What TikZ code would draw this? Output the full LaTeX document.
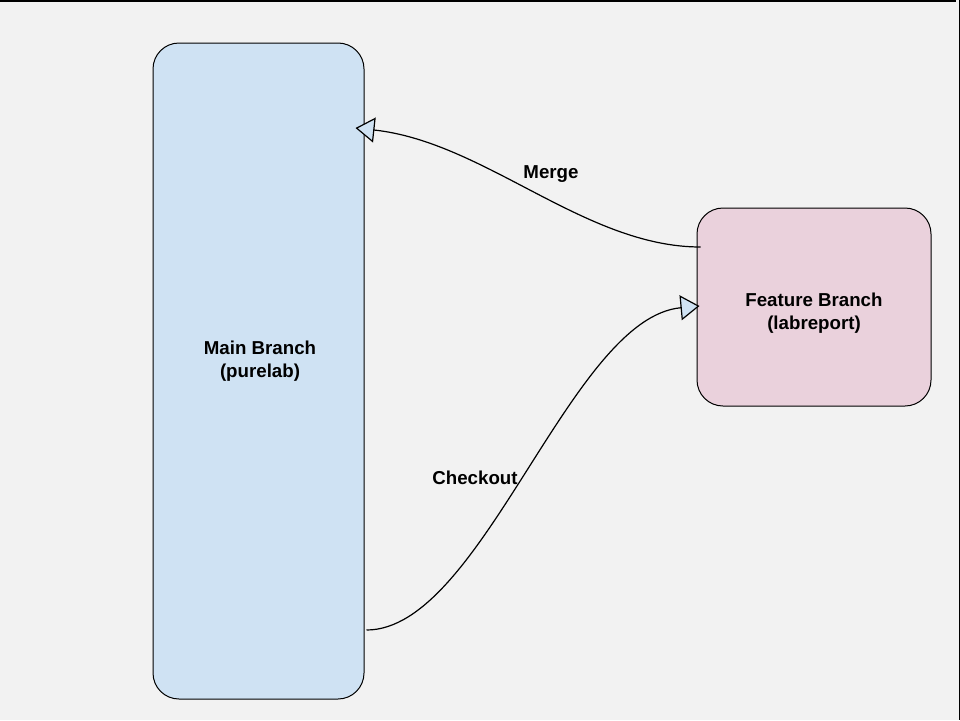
\documentclass[tikz,border=0pt]{standalone}
\usepackage{fontspec}
\setmainfont{Liberation Sans}
\usetikzlibrary{arrows.meta}
\definecolor{bgcol}{HTML}{F2F2F2}
\definecolor{mainfill}{HTML}{CFE2F3}
\definecolor{featfill}{HTML}{EAD1DC}
\tikzset{
  branchbox/.style={draw=black, line width=1pt, rounded corners=26pt, inner sep=0pt},
  lbl/.style={font=\fontsize{18.7}{23}\selectfont\bfseries, inner sep=0pt, align=center},
  conn/.style={line width=1.2pt, draw=black,
    -{Triangle[open, length=19pt, width=25pt, fill=mainfill, line width=1.2pt]}}
}
\begin{document}
\begin{tikzpicture}[x=1pt,y=-1pt]
\useasboundingbox (0,0) rectangle (960,720);
\fill[bgcol] (0,0) rectangle (960,720);
\draw[line width=1.5pt] (0,0.75) -- (956,0.75);
\draw[line width=1.5pt] (959.25,0) -- (959.25,720);
\node[branchbox, fill=mainfill, minimum width=211pt, minimum height=656pt] (main) at (258.5,371) {};
\node[branchbox, fill=featfill, minimum width=234pt, minimum height=198pt] (feat) at (814,307) {};
\node[lbl] (maintext) at (260,361) {Main Branch\\(purelab)};
\node[lbl] (feattext) at (814,313) {Feature Branch\\(labreport)};
\coordinate (mstart) at ([yshift=60pt]feat.west);
\coordinate (mend) at ([xshift=-9pt,yshift=243pt]main.east);
\coordinate (cstart) at ([xshift=2pt,yshift=-259pt]main.east);
\coordinate (cend) at ([xshift=3pt,yshift=1pt]feat.west);
\draw[conn] ([xshift=4pt]mstart) .. controls (585,247) and (485,142) .. (mend);
\draw[conn] (cstart) .. controls (482,630) and (570,318) .. (cend);
\node[lbl] (merge) at (551,174) {Merge};
\node[lbl] (checkout) at (475,478) {Checkout};
\end{tikzpicture}
\end{document}
